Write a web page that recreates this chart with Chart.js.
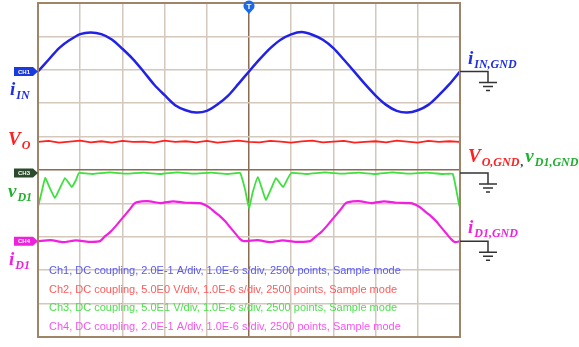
<!DOCTYPE html>
<html>
<head>
<meta charset="utf-8">
<script src="https://cdn.jsdelivr.net/npm/chart.js@4/dist/chart.umd.min.js"></script>
<style>
  html, body { margin: 0; padding: 0; background: #fff; }
  #wrap { width: 579px; height: 347px; }
</style>
</head>
<body>
<div id="wrap"><canvas id="scope"></canvas></div>
<script>
// time in divisions (1.0E-6 s/div), vertical in divisions
var timeDiv = [-5, -4.75, -4.5, -4.25, -4, -3.75, -3.5, -3.25, -3, -2.75, -2.5, -2.25, -2, -1.75, -1.5, -1.25, -1, -0.75, -0.5, -0.25,
  0, 0.25, 0.5, 0.75, 1, 1.25, 1.5, 1.75, 2, 2.25, 2.5, 2.75, 3, 3.25, 3.5, 3.75, 4, 4.25, 4.5, 4.75, 5];
var iInValues = [2.95, 3.30, 3.65, 3.89, 4.07, 4.12, 4.07, 3.91, 3.63, 3.32, 2.95, 2.56, 2.24, 1.94, 1.79, 1.72, 1.77, 1.96, 2.22, 2.58,
  2.95, 3.31, 3.64, 3.90, 4.06, 4.13, 4.05, 3.90, 3.65, 3.30, 2.94, 2.57, 2.23, 1.95, 1.77, 1.72, 1.79, 1.95, 2.24, 2.57, 2.95];
var voValues = [0.84, 0.87, 0.82, 0.85, 0.88, 0.83, 0.86, 0.82, 0.87, 0.84, 0.85, 0.82, 0.88, 0.84, 0.86, 0.83, 0.87, 0.82, 0.85, 0.88,
  0.84, 0.83, 0.87, 0.85, 0.82, 0.86, 0.88, 0.83, 0.85, 0.87, 0.82, 0.84, 0.86, 0.83, 0.88, 0.85, 0.82, 0.87, 0.84, 0.86, 0.84];
var vD1Times = [-5, -4.93, -4.83, -4.72, -4.6, -4.48, -4.36, -4.27, -4.2, -4.1, -4.03, -3.7, -3.3, -2.9, -2.5, -2.1, -1.7, -1.3, -0.9, -0.5, -0.21,
  -0.09, 0, 0.09, 0.21, 0.31, 0.4, 0.52, 0.64, 0.73, 0.81, 0.9, 1.0, 1.4, 1.8, 2.2, 2.6, 3.0, 3.4, 3.8, 4.2, 4.6, 4.83, 4.98, 5];
var vD1Values = [-1.11, -0.75, -0.24, -0.54, -0.84, -0.54, -0.24, -0.39, -0.51, -0.30, -0.09, -0.12, -0.07, -0.11, -0.08, -0.12, -0.07, -0.11, -0.08, -0.12, -0.09,
  -0.60, -1.14, -0.66, -0.21, -0.57, -0.90, -0.57, -0.24, -0.39, -0.51, -0.30, -0.09, -0.12, -0.07, -0.11, -0.08, -0.12, -0.07, -0.11, -0.08, -0.12, -0.12, -1.05, -1.11];
var iD1Times = [-5, -4.7, -4.4, -4.1, -3.8, -3.53, -3.41, -3.29, -3.18, -3.06, -2.94, -2.82, -2.73, -2.65, -2.4, -2.1, -1.8, -1.5, -1.16,
  -1.04, -0.92, -0.81, -0.69, -0.57, -0.45, -0.33, -0.21, -0.12, 0.2, 0.5, 0.8, 1.1, 1.45, 1.59, 1.71, 1.82, 1.94, 2.06, 2.18, 2.27, 2.35,
  2.6, 2.9, 3.2, 3.5, 3.84, 3.96, 4.08, 4.19, 4.31, 4.43, 4.55, 4.67, 4.79, 4.88, 5];
var iD1Values = [-2.13, -2.10, -2.16, -2.11, -2.15, -2.13, -1.98, -1.86, -1.71, -1.53, -1.35, -1.17, -1.02, -0.96, -0.93, -0.99, -0.94, -0.98, -0.99,
  -1.05, -1.14, -1.26, -1.38, -1.53, -1.71, -1.89, -2.07, -2.13, -2.10, -2.16, -2.11, -2.15, -2.13, -1.98, -1.86, -1.71, -1.53, -1.35, -1.17, -1.02, -0.96,
  -0.93, -0.99, -0.94, -0.98, -0.99, -1.05, -1.14, -1.26, -1.38, -1.53, -1.71, -1.89, -2.07, -2.16, -2.13];
var groundLevels = [2.95, 0.84, -0.09, -2.13];
var channelNames = ["CH1", "CH2", "CH3", "CH4"];
var channelInfo = [
  "Ch1, DC coupling, 2.0E-1 A/div, 1.0E-6 s/div, 2500 points, Sample mode",
  "Ch2, DC coupling, 5.0E0 V/div, 1.0E-6 s/div, 2500 points, Sample mode",
  "Ch3, DC coupling, 5.0E1 V/div, 1.0E-6 s/div, 2500 points, Sample mode",
  "Ch4, DC coupling, 2.0E-1 A/div, 1.0E-6 s/div, 2500 points, Sample mode"
];

function pts(xs, ys) {
  var out = [];
  for (let i = 0; i < xs.length; i++) out.push({ x: xs[i], y: ys[i] });
  return out;
}

function sub(ctx, x, y, main, small, color) {
  ctx.fillStyle = color;
  ctx.font = 'bold italic 19px "Liberation Serif"';
  ctx.textAlign = "left";
  ctx.textBaseline = "alphabetic";
  ctx.fillText(main, x, y);
  var w = ctx.measureText(main).width;
  ctx.font = 'bold italic 12px "Liberation Serif"';
  ctx.fillText(small, x + w + 1, y + 4);
  return x + w + 1 + ctx.measureText(small).width;
}

function ground(ctx, x0, y) {
  ctx.strokeStyle = "#333";
  ctx.lineWidth = 1.5;
  ctx.beginPath();
  ctx.moveTo(x0, y); ctx.lineTo(x0 + 28, y); ctx.lineTo(x0 + 28, y + 11);
  ctx.moveTo(x0 + 19, y + 11); ctx.lineTo(x0 + 37, y + 11);
  ctx.moveTo(x0 + 23, y + 15); ctx.lineTo(x0 + 33, y + 15);
  ctx.moveTo(x0 + 26, y + 19); ctx.lineTo(x0 + 30, y + 19);
  ctx.stroke();
}

function tag(ctx, xr, y, text, fill) {
  ctx.fillStyle = fill;
  ctx.beginPath();
  ctx.moveTo(14, y - 4.5); ctx.lineTo(33, y - 4.5); ctx.lineTo(xr, y); ctx.lineTo(33, y + 4.5); ctx.lineTo(14, y + 4.5);
  ctx.closePath(); ctx.fill();
  ctx.fillStyle = "#fff";
  ctx.font = "bold 6px Arial";
  ctx.textAlign = "center"; ctx.textBaseline = "middle";
  ctx.fillText(text, 24, y + 0.5);
}

var scopeDeco = {
  id: "scopeDeco",
  afterDraw(chart) {
    var ctx = chart.ctx, a = chart.chartArea, ys = chart.scales.y, xs = chart.scales.x;
    ctx.save();
    ctx.strokeStyle = "#a08468"; ctx.lineWidth = 2;
    ctx.strokeRect(a.left, a.top, a.right - a.left, a.bottom - a.top);

    var g = groundLevels.map(v => ys.getPixelForValue(v));
    tag(ctx, a.left, g[0], channelNames[0], "#1a3ae0");
    tag(ctx, a.left, g[2], channelNames[2], "#2c4a2c");
    tag(ctx, a.left, g[3], channelNames[3], "#ee22dd");

    sub(ctx, 10, g[0] + 24, "i", "IN", "#2030e0");
    sub(ctx, 8, g[1] + 3, "V", "O", "#ff2020");
    sub(ctx, 8, g[2] + 24, "v", "D1", "#20b030");
    sub(ctx, 9, g[3] + 24, "i", "D1", "#ee22dd");

    sub(ctx, a.right + 8, g[0] - 7, "i", "IN,GND", "#2030e0");
    var e = sub(ctx, a.right + 8, g[2] - 11, "V", "O,GND", "#ff2020");
    ctx.fillStyle = "#333"; ctx.font = 'bold 12px "Liberation Serif"';
    ctx.fillText(",", e + 1, g[2] - 7);
    sub(ctx, e + 6, g[2] - 11, "v", "D1,GND", "#20b030");
    sub(ctx, a.right + 8, g[3] - 8, "i", "D1,GND", "#ee22dd");

    ground(ctx, a.right, g[0]);
    ground(ctx, a.right, g[2]);
    ground(ctx, a.right, g[3]);

    // trigger marker
    var tx = xs.getPixelForValue(0);
    ctx.fillStyle = "#1a6ae8";
    ctx.beginPath();
    ctx.arc(tx, 6, 5.5, Math.PI * 0.85, Math.PI * 2.15);
    ctx.lineTo(tx, 14);
    ctx.closePath(); ctx.fill();
    ctx.fillStyle = "#fff"; ctx.font = "bold 8px Arial";
    ctx.textAlign = "center"; ctx.textBaseline = "middle";
    ctx.fillText("T", tx, 6.5);

    var infoCols = ["#5a5aee", "#ff5a5a", "#4ce04c", "#f655f0"];
    ctx.font = '11px "Liberation Sans"';
    ctx.textAlign = "left"; ctx.textBaseline = "alphabetic";
    for (let i = 0; i < channelInfo.length; i++) {
      ctx.fillStyle = infoCols[i];
      ctx.fillText(channelInfo[i], 49, 274 + i * 18.5);
    }
    ctx.restore();
  }
};

var gridCol = (c) => (c.tick && c.tick.value === 0 ? "#8c6c50" : "#d4c8bc");

new Chart(document.getElementById("scope"), {
  type: "line",
  data: {
    datasets: [
      { data: pts(timeDiv, iInValues), borderColor: "#2222e6", borderWidth: 2.5, tension: 0.3 },
      { data: pts(timeDiv, voValues), borderColor: "#ff2020", borderWidth: 1.8, tension: 0 },
      { data: pts(vD1Times, vD1Values), borderColor: "#3ee03e", borderWidth: 1.8, tension: 0.1 },
      { data: pts(iD1Times, iD1Values), borderColor: "#f020e0", borderWidth: 2.2, tension: 0.2 }
    ]
  },
  options: {
    responsive: true,
    maintainAspectRatio: false,
    animation: false,
    layout: { padding: { left: 38, right: 119, top: 3, bottom: 10 } },
    elements: { point: { radius: 0 } },
    plugins: { legend: { display: false }, tooltip: { enabled: false } },
    scales: {
      x: {
        type: "linear", min: -5, max: 5,
        ticks: { display: false, stepSize: 1 },
        grid: { color: gridCol, lineWidth: 1.5, drawTicks: false },
        border: { display: false }
      },
      y: {
        min: -5, max: 5,
        ticks: { display: false, stepSize: 1 },
        grid: { color: gridCol, lineWidth: 1.5, drawTicks: false },
        border: { display: false }
      }
    }
  },
  plugins: [scopeDeco]
});
</script>
</body>
</html>
